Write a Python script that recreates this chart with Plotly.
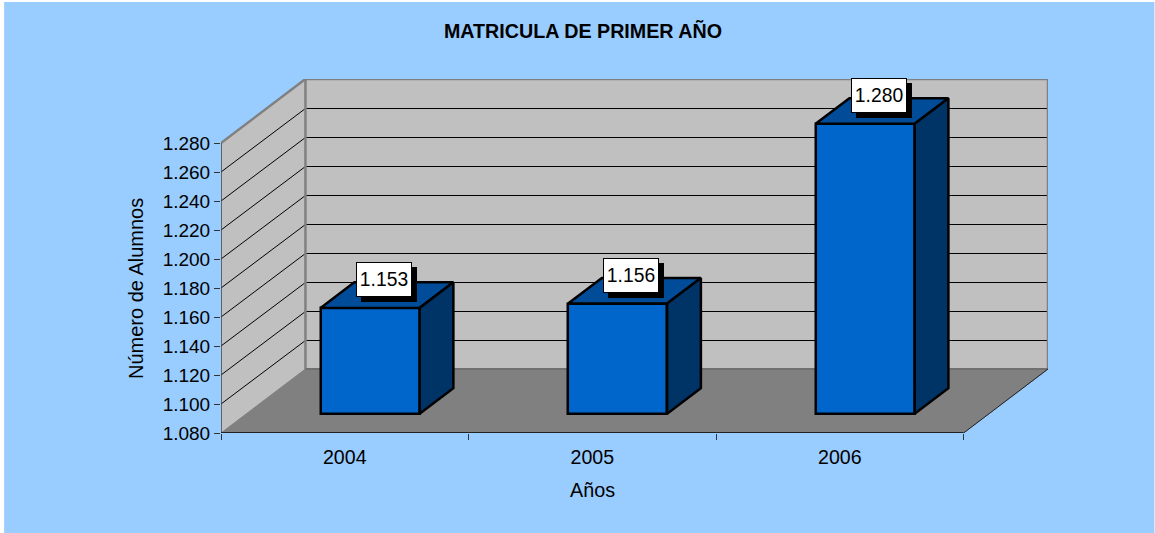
import plotly.graph_objects as go

YEARS = ["2004", "2005", "2006"]
VALUES = [1153, 1156, 1280]
VALUE_LABELS = ["1.153", "1.156", "1.280"]
TICK_VALUES = [1080, 1100, 1120, 1140, 1160, 1180, 1200, 1220, 1240, 1260, 1280]
TICK_LABELS = ["1.080", "1.100", "1.120", "1.140", "1.160", "1.180", "1.200", "1.220", "1.240", "1.260", "1.280"]
CATEGORY_EDGES = [-0.5, 0.5, 1.5, 2.5]

W, H = 1155, 533
L, R, T, B = 221, 964, 143, 433      # front plane, in page pixels
DEPTH_PX_X, DEPTH_PX_Y = 84.5, 64    # depth of the box, in page pixels
FONT = "Liberation Sans, Arial, sans-serif"

PX_X = (R - L) / 3                   # pixels per category
PX_Y = (B - T) / 200                 # pixels per value unit
DX = DEPTH_PX_X / PX_X
DY = DEPTH_PX_Y / PX_Y
NEAR, FAR = 0.3, 0.7
BAR_W = 0.40
YMIN, YMAX = TICK_VALUES[0], TICK_VALUES[-1]
XMIN, XMAX = CATEGORY_EDGES[0], CATEGORY_EDGES[-1]
CRISP = 0.5 / PX_Y                   # half a pixel, so 1px lines stay sharp

fig = go.Figure()
shapes = []


def path(xs, ys):
    return "M" + "L".join(f"{x},{y}" for x, y in zip(xs, ys)) + "Z"


def face(xs, ys, fill, color, width):
    shapes.append(dict(type="path", xref="x", yref="y", layer="below", path=path(xs, ys),
                       fillcolor=fill, line=dict(color=color, width=width)))


def seg(x0, y0, x1, y1, color, width):
    shapes.append(dict(type="line", xref="x", yref="y", layer="below",
                       x0=x0, y0=y0, x1=x1, y1=y1, line=dict(color=color, width=width)))


# page background
shapes.append(dict(type="rect", xref="paper", yref="paper", layer="below",
                   x0=(4 - L) / (R + DEPTH_PX_X - L), x1=(W - L) / (R + DEPTH_PX_X - L),
                   y0=(B - H) / (B - T + DEPTH_PX_Y), y1=(B - 2) / (B - T + DEPTH_PX_Y),
                   fillcolor="#99CCFF", line=dict(width=0)))
# walls and floor
face([XMIN + DX, XMAX + DX, XMAX + DX, XMIN + DX], [YMIN + DY, YMIN + DY, YMAX + DY, YMAX + DY],
     "#C0C0C0", "#C0C0C0", 1)
face([XMIN, XMIN + DX, XMIN + DX, XMIN], [YMIN, YMIN + DY, YMAX + DY, YMAX],
     "#C0C0C0", "#C0C0C0", 1)
face([XMIN, XMAX, XMAX + DX, XMIN + DX], [YMIN, YMIN, YMIN + DY, YMIN + DY],
     "#808080", "#808080", 1)
# gridlines
for v in TICK_VALUES[1:-1]:
    seg(XMIN, v, XMIN + DX, v + DY - CRISP, "#000000", 1)
    seg(XMIN + DX, v + DY - CRISP, XMAX + DX, v + DY - CRISP, "#000000", 1)
# wall edges
seg(XMIN + DX, YMIN + DY, XMIN + DX, YMAX + DY, "#808080", 2.5)
seg(XMAX + DX, YMIN + DY, XMAX + DX, YMAX + DY, "#808080", 2.5)
seg(XMIN + DX, YMIN + DY, XMAX + DX, YMIN + DY, "#707070", 2)
seg(XMIN, YMAX, XMIN + DX, YMAX + DY, "#808080", 2.5)
seg(XMIN + DX, YMAX + DY, XMAX + DX, YMAX + DY, "#808080", 2.5)
seg(XMAX, YMIN, XMAX + DX, YMIN + DY, "#222222", 1)
# front axis lines
seg(XMIN, YMIN, XMIN, YMAX, "#444444", 1.5)
seg(XMIN, YMIN, XMAX, YMIN, "#222222", 2)

# bars: front faces
bar_x = [i + NEAR * DX for i in range(len(VALUES))]
fig.add_trace(go.Bar(
    x=bar_x, y=[v - YMIN for v in VALUES], base=YMIN + NEAR * DY, width=BAR_W,
    marker=dict(color="#0066CC", line=dict(color="#000000", width=2.5)),
    showlegend=False, hoverinfo="skip"))

# bars: top and side faces
d = FAR - NEAR
for x, v in zip(bar_x, VALUES):
    xl, xr = x - BAR_W / 2, x + BAR_W / 2
    y0, y1 = YMIN + NEAR * DY, v + NEAR * DY
    for xs, ys, col in (
        ([xl, xr, xr + d * DX, xl + d * DX, xl], [y1, y1, y1 + d * DY, y1 + d * DY, y1], "#004C99"),
        ([xr, xr + d * DX, xr + d * DX, xr, xr], [y0, y0 + d * DY, y1 + d * DY, y1, y0], "#003366"),
    ):
        fig.add_trace(go.Scatter(x=xs, y=ys, mode="lines", fill="toself", fillcolor=col,
                                 line=dict(color="#000000", width=2.5),
                                 hoverinfo="skip", showlegend=False))

# data labels with drop shadow
annotations = []
for x, v, lab in zip(bar_x, VALUES, VALUE_LABELS):
    base = dict(x=x, y=v + NEAR * DY, xref="x", yref="y", showarrow=False,
                width=54, height=33, borderpad=0, align="center", valign="middle",
                font=dict(family=FONT, size=19.3, color="#000000"))
    annotations.append(dict(base, text="&nbsp;", xshift=18.5, yshift=23.5, bgcolor="#000000",
                            bordercolor="#000000", borderwidth=1))
    annotations.append(dict(base, text=lab, xshift=13.5, yshift=28.5, bgcolor="#FFFFFF",
                            bordercolor="#000000", borderwidth=1))
# axis titles
annotations.append(dict(x=(XMIN + XMAX) / 2, y=YMIN, xref="x", yref="y", yanchor="middle",
                        yshift=-57, text="Años", showarrow=False,
                        font=dict(family=FONT, size=19.8, color="#000000")))
annotations.append(dict(x=XMIN, y=(YMIN + YMAX) / 2, xref="x", yref="y", xanchor="center",
                        xshift=-85, yshift=-1, text="Número de Alumnos", textangle=-90, showarrow=False,
                        font=dict(family=FONT, size=20, color="#000000")))

fig.update_layout(
    width=W, height=H, autosize=False,
    margin=dict(l=L, r=W - R - DEPTH_PX_X, t=T - DEPTH_PX_Y, b=H - B, pad=0),
    paper_bgcolor="#FFFFFF", plot_bgcolor="rgba(0,0,0,0)",
    showlegend=False, bargap=0,
    font=dict(family=FONT, size=19, color="#000000"),
    title=dict(text="<b>MATRICULA DE PRIMER AÑO</b>", x=583 / W, y=1 - 31 / H,
               xanchor="center", yanchor="middle", xref="container", yref="container",
               font=dict(family=FONT, size=19.7, color="#000000")),
    shapes=shapes,
    annotations=annotations,
    xaxis=dict(range=[XMIN, XMAX + DX], tickmode="array", tickvals=list(range(len(YEARS))),
               ticktext=YEARS, ticks="", ticklen=0, showgrid=False, zeroline=False,
               showline=False, ticklabelstandoff=10,
               minor=dict(tickmode="array", tickvals=CATEGORY_EDGES, ticks="outside",
                          ticklen=6, tickwidth=1, tickcolor="#333333", showgrid=False),
               tickfont=dict(family=FONT, size=19.6)),
    yaxis=dict(range=[YMIN, YMAX + DY], tickmode="array", tickvals=TICK_VALUES, ticktext=TICK_LABELS,
               ticks="outside", ticklen=6, tickwidth=1, tickcolor="#333333",
               showgrid=False, zeroline=False, showline=False,
               tickfont=dict(family=FONT, size=19)),
)

fig.write_html("out.html", config={"displayModeBar": False},
               post_script="document.body.style.margin='0';document.body.style.overflow='hidden';")
